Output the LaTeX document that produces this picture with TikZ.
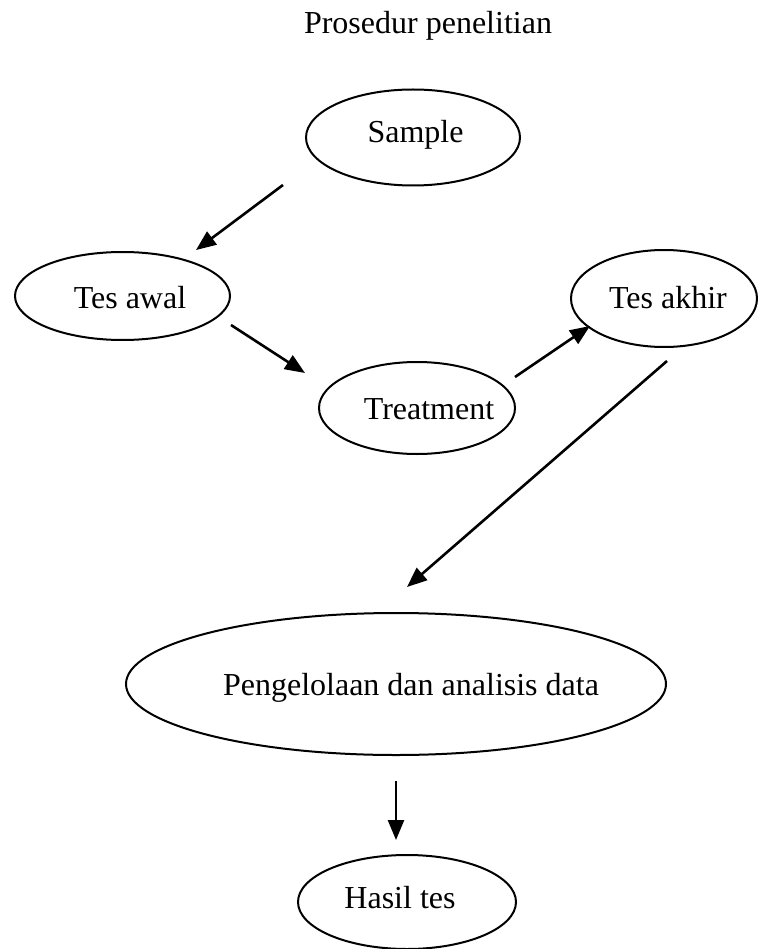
\documentclass[tikz,border=0pt]{standalone}
\usepackage{fontspec}
\setmainfont{Liberation Serif}
\usetikzlibrary{shapes.geometric,arrows.meta}
\begin{document}
\begin{tikzpicture}[x=1pt,y=-1pt,
  oval/.style={draw,line width=2pt,ellipse,inner sep=0pt},
  lbl/.style={anchor=base,inner sep=0pt,font=\fontsize{32}{38}\selectfont},
  conn/.style={line width=2.6pt,-{Triangle[length=20pt,width=16pt]}}]
\useasboundingbox (0,0) rectangle (757,949);
% title
\node[lbl] (title) at (428,34) {Prosedur penelitian};
% ellipses
\node[oval,minimum width=214pt,minimum height=96pt] (sample) at (413,137.5) {};
\node[oval,minimum width=215pt,minimum height=88pt] (tesawal) at (122.5,296) {};
\node[oval,minimum width=186pt,minimum height=97pt] (tesakhir) at (664,298.5) {};
\node[oval,minimum width=196pt,minimum height=92pt] (treatment) at (417,408) {};
\node[oval,minimum width=540pt,minimum height=142pt] (olah) at (396,684) {};
\node[oval,minimum width=218pt,minimum height=94pt] (hasil) at (407,902) {};
% texts
\node[lbl] (sample-t) at (415.5,143) {Sample};
\node[lbl] (tesawal-t) at (130,308) {Tes awal};
\node[lbl] (tesakhir-t) at (668,308) {Tes akhir};
\node[lbl] (treatment-t) at (429,419) {Treatment};
\node[lbl] (olah-t) at (411,695) {Pengelolaan dan analisis data};
\node[lbl] (hasil-t) at (400,908) {Hasil tes};
% connector ends
\coordinate (a1s) at (283,185);
\coordinate (a1e) at (196,250);
\coordinate (a2s) at (231,325);
\coordinate (a2e) at (305,373);
\coordinate (a3s) at (515,377);
\coordinate (a3e) at (590,326);
\coordinate (a4s) at (667,361);
\coordinate (a4e) at (407,587);
\coordinate (a5s) at (396,781);
\coordinate (a5e) at (396,840);
\draw[conn] (a1s) -- (a1e);
\draw[conn] (a2s) -- (a2e);
\draw[conn] (a3s) -- (a3e);
\draw[conn] (a4s) -- (a4e);
\draw[conn] (a5s) -- (a5e);
\end{tikzpicture}
\end{document}
